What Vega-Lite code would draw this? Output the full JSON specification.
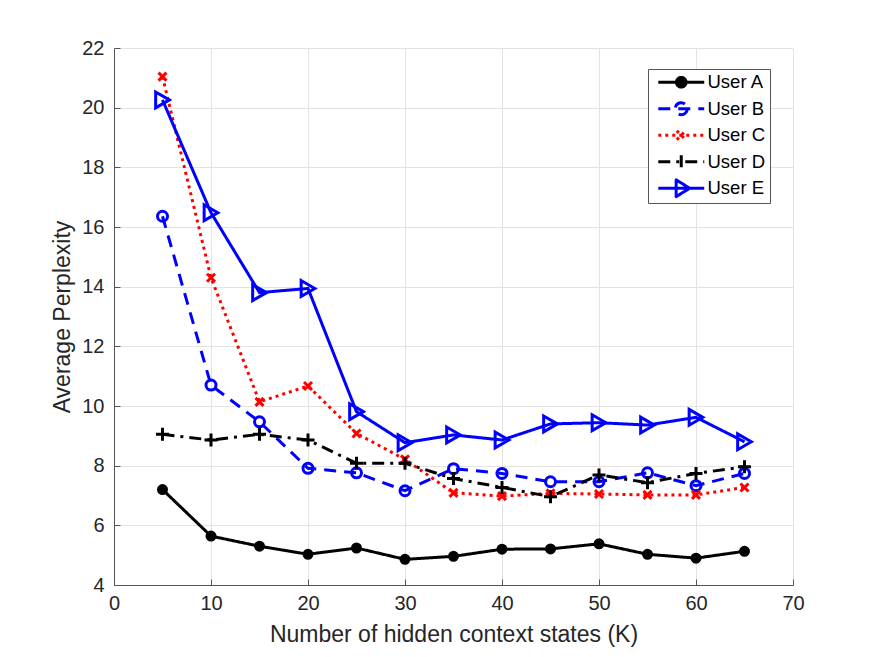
{
  "$schema": "https://vega.github.io/schema/vega-lite/v6.json",
  "autosize": "none",
  "width": 679,
  "height": 537,
  "padding": {"left": 114, "top": 48, "right": 82, "bottom": 72},
  "background": "white",
  "config": {
    "font": "Liberation Sans",
    "view": {"stroke": null},
    "axis": {
      "labelFont": "Liberation Sans",
      "titleFont": "Liberation Sans",
      "labelFontSize": 20,
      "titleFontSize": 23,
      "labelColor": "#262626",
      "titleColor": "#262626",
      "titleFontWeight": "normal",
      "domainColor": "#555555",
      "tickColor": "#555555",
      "gridColor": "#e3e3e3",
      "gridWidth": 1
    },
    "legend": {
      "labelFont": "Liberation Sans",
      "labelFontSize": 18.5,
      "labelColor": "#000000",
      "labelLimit": 200
    }
  },
  "datasets": {
    "perp": [
      {"k": 5, "user": "User A", "v": 7.2},
      {"k": 10, "user": "User A", "v": 5.64},
      {"k": 15, "user": "User A", "v": 5.3},
      {"k": 20, "user": "User A", "v": 5.03},
      {"k": 25, "user": "User A", "v": 5.24},
      {"k": 30, "user": "User A", "v": 4.86},
      {"k": 35, "user": "User A", "v": 4.96},
      {"k": 40, "user": "User A", "v": 5.2},
      {"k": 45, "user": "User A", "v": 5.21},
      {"k": 50, "user": "User A", "v": 5.38},
      {"k": 55, "user": "User A", "v": 5.03},
      {"k": 60, "user": "User A", "v": 4.9},
      {"k": 65, "user": "User A", "v": 5.13},
      {"k": 5, "user": "User B", "v": 16.36},
      {"k": 10, "user": "User B", "v": 10.7},
      {"k": 15, "user": "User B", "v": 9.47},
      {"k": 20, "user": "User B", "v": 7.91},
      {"k": 25, "user": "User B", "v": 7.76},
      {"k": 30, "user": "User B", "v": 7.16},
      {"k": 35, "user": "User B", "v": 7.9},
      {"k": 40, "user": "User B", "v": 7.74},
      {"k": 45, "user": "User B", "v": 7.46},
      {"k": 50, "user": "User B", "v": 7.46},
      {"k": 55, "user": "User B", "v": 7.76},
      {"k": 60, "user": "User B", "v": 7.33},
      {"k": 65, "user": "User B", "v": 7.74},
      {"k": 5, "user": "User C", "v": 21.04},
      {"k": 10, "user": "User C", "v": 14.3},
      {"k": 15, "user": "User C", "v": 10.14},
      {"k": 20, "user": "User C", "v": 10.67},
      {"k": 25, "user": "User C", "v": 9.08},
      {"k": 30, "user": "User C", "v": 8.21},
      {"k": 35, "user": "User C", "v": 7.09},
      {"k": 40, "user": "User C", "v": 6.98},
      {"k": 45, "user": "User C", "v": 7.07},
      {"k": 50, "user": "User C", "v": 7.05},
      {"k": 55, "user": "User C", "v": 7.02},
      {"k": 60, "user": "User C", "v": 7.02},
      {"k": 65, "user": "User C", "v": 7.27},
      {"k": 5, "user": "User D", "v": 9.05},
      {"k": 10, "user": "User D", "v": 8.86},
      {"k": 15, "user": "User D", "v": 9.05},
      {"k": 20, "user": "User D", "v": 8.86},
      {"k": 25, "user": "User D", "v": 8.08},
      {"k": 30, "user": "User D", "v": 8.08},
      {"k": 35, "user": "User D", "v": 7.57},
      {"k": 40, "user": "User D", "v": 7.27},
      {"k": 45, "user": "User D", "v": 6.96},
      {"k": 50, "user": "User D", "v": 7.69},
      {"k": 55, "user": "User D", "v": 7.43},
      {"k": 60, "user": "User D", "v": 7.74},
      {"k": 65, "user": "User D", "v": 7.96},
      {"k": 5, "user": "User E", "v": 20.26},
      {"k": 10, "user": "User E", "v": 16.48},
      {"k": 15, "user": "User E", "v": 13.8},
      {"k": 20, "user": "User E", "v": 13.94},
      {"k": 25, "user": "User E", "v": 9.81},
      {"k": 30, "user": "User E", "v": 8.77},
      {"k": 35, "user": "User E", "v": 9.03},
      {"k": 40, "user": "User E", "v": 8.86},
      {"k": 45, "user": "User E", "v": 9.4},
      {"k": 50, "user": "User E", "v": 9.44},
      {"k": 55, "user": "User E", "v": 9.36},
      {"k": 60, "user": "User E", "v": 9.62},
      {"k": 65, "user": "User E", "v": 8.8}
    ]
  },
  "data": {"name": "perp"},
  "encoding": {
    "x": {
      "field": "k", "type": "quantitative",
      "scale": {"domain": [0, 70], "nice": false},
      "axis": {"values": [0, 10, 20, 30, 40, 50, 60, 70], "title": "Number of hidden context states (K)", "tickSize": -6, "labelPadding": 14, "titlePadding": 10, "labelFlush": false}
    },
    "y": {
      "field": "v", "type": "quantitative",
      "scale": {"domain": [4, 22], "nice": false, "zero": false},
      "axis": {"values": [4, 6, 8, 10, 12, 14, 16, 18, 20, 22], "title": "Average Perplexity", "tickSize": -6, "labelPadding": 16, "titlePadding": 7, "labelFlush": false}
    }
  },
  "layer": [
    {
      "mark": {"type": "line", "strokeWidth": 3},
      "encoding": {
        "color": {
          "field": "user", "type": "nominal",
          "scale": {"domain": ["User A", "User B", "User C", "User D", "User E"], "range": ["#000000", "#0000ff", "#ff0000", "#000000", "#0000ff"]},
          "legend": {
            "title": null, "orient": "none", "legendX": 534, "legendY": 21,
            "strokeColor": "#555555", "fillColor": "white", "padding": 4,
            "labelFontSize": 18.5, "labelFont": "Liberation Sans", "labelColor": "#000000",
            "symbolSize": 144, "symbolStrokeWidth": 3, "rowPadding": 5.5, "labelOffset": 17, "symbolOffset": 20,
            "gridAlign": "all",
            "symbolType": "M-3.83,0L3.83,0",
            "encode": {
              "symbols": {
                "update": {
                  "shape": {"signal": "datum.value === 'User A' ? 'M-3.83,0L3.83,0M0.8,0A0.8,0.8,0,1,1,-0.8,0A0.8,0.8,0,1,1,0.8,0Z' : datum.value === 'User B' ? 'M-3.83,0L3.83,0M1,0A1,1,0,1,1,-1,0A1,1,0,1,1,1,0Z' : datum.value === 'User C' ? 'M-3.83,0L3.83,0M-0.75,-0.75L0.75,0.75M-0.75,0.75L0.75,-0.75' : datum.value === 'User D' ? 'M-3.83,0L3.83,0M0,-1.1L0,1.1' : 'M-3.83,0L3.83,0M-0.85,-1.4L1.4,0L-0.85,1.4Z'"},
                  "fill": {"signal": "datum.value === 'User A' ? '#000000' : datum.value === 'User B' ? 'white' : 'transparent'"},
                  "strokeJoin": {"value": "round"}
                }
              }
            }
          }
        },
        "strokeDash": {
          "field": "user", "type": "nominal",
          "scale": {"domain": ["User A", "User B", "User C", "User D", "User E"], "range": [[1, 0], [12, 8], [3, 4], [12, 6, 3, 6], [1, 0]]},
          "legend": {
            "title": null, "orient": "none", "legendX": 534, "legendY": 21
          }
        }
      }
    },
    {
      "mark": {"type": "point", "filled": false, "strokeWidth": 3, "opacity": 1},
      "encoding": {
        "color": {
          "field": "user", "type": "nominal",
          "scale": {"domain": ["User A", "User B", "User C", "User D", "User E"], "range": ["#000000", "#0000ff", "#ff0000", "#000000", "#0000ff"]},
          "legend": null
        },
        "fill": {
          "field": "user", "type": "nominal",
          "scale": {"range": ["#000000", "transparent", "#ff0000", "#000000", "transparent"]},
          "legend": null
        },
        "shape": {
          "field": "user", "type": "nominal",
          "scale": {"range": ["circle", "circle", "M-1,-1L1,1M-1,1L1,-1", "M-1,0L1,0M0,-1L0,1", "triangle-right"]},
          "legend": null
        },
        "size": {
          "field": "user", "type": "nominal",
          "scale": {"type": "ordinal", "range": [64, 100, 64, 169, 250]},
          "legend": null
        }
      }
    }
  ]
}
